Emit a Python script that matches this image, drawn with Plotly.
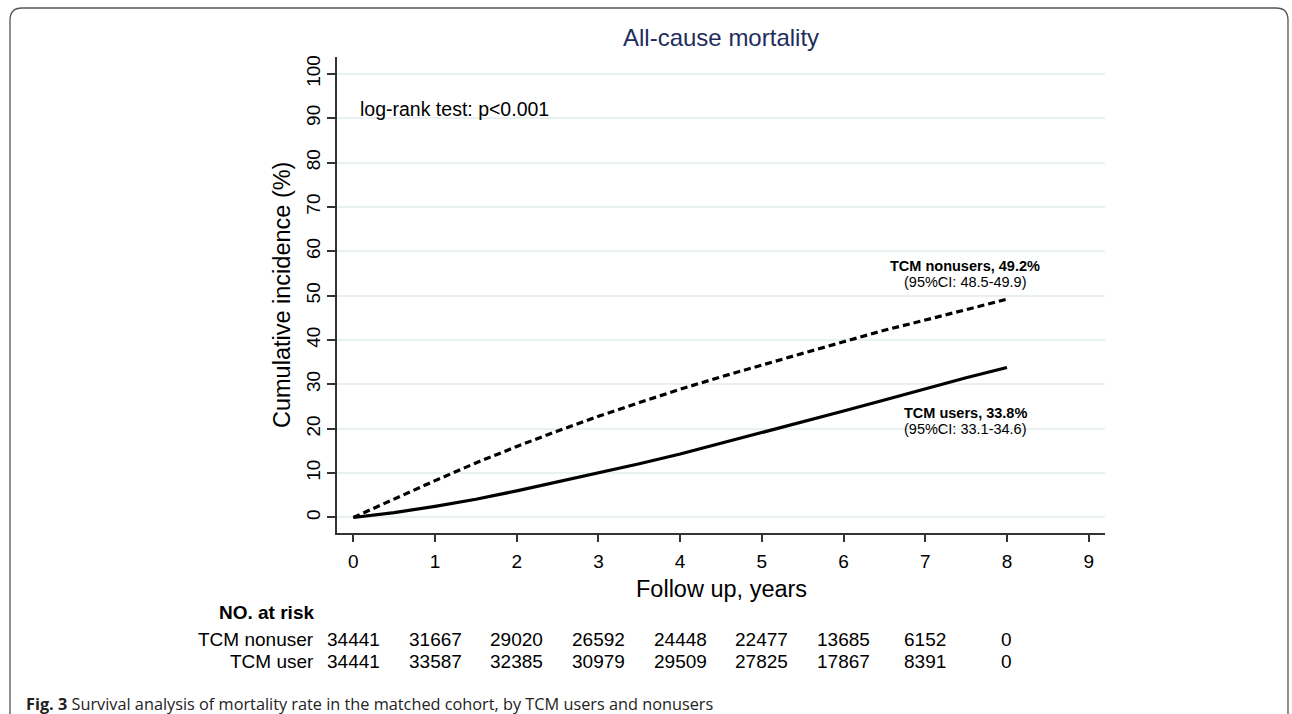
import plotly.graph_objects as go

# ---------------- data ----------------
years = [0, 0.5, 1, 1.5, 2, 2.5, 3, 3.5, 4, 4.5, 5, 5.5, 6, 6.5, 7, 7.5, 8]
nonusers_ci = [0, 4.2, 8.3, 12.3, 16.0, 19.5, 22.8, 25.9, 28.9, 31.7, 34.4, 37.0, 39.6, 42.2, 44.5, 46.8, 49.2]
users_ci = [0, 1.1, 2.5, 4.1, 6.0, 8.0, 10.0, 12.1, 14.3, 16.7, 19.1, 21.5, 24.0, 26.5, 29.0, 31.5, 33.8]

risk_times = [0, 1, 2, 3, 4, 5, 6, 7, 8]
risk_nonuser = [34441, 31667, 29020, 26592, 24448, 22477, 13685, 6152, 0]
risk_user = [34441, 33587, 32385, 30979, 29509, 27825, 17867, 8391, 0]

x_ticks = [0, 1, 2, 3, 4, 5, 6, 7, 8, 9]
y_ticks = [0, 10, 20, 30, 40, 50, 60, 70, 80, 90, 100]

title_text = "All-cause mortality"
x_title = "Follow up, years"
y_title = "Cumulative incidence (%)"
logrank_text = "log-rank test: p<0.001"
nonuser_label = ["<b>TCM nonusers, 49.2%</b>", "(95%CI: 48.5-49.9)"]
user_label = ["<b>TCM users, 33.8%</b>", "(95%CI: 33.1-34.6)"]
caption_bold = "Fig. 3"
caption_text = " Survival analysis of mortality rate in the matched cohort, by TCM users and nonusers"

# ---------------- layout geometry (pixels) ----------------
W, H = 1292, 714
L, R, T, B = 337, 1105, 57, 533  # plot area in pixels


def px2x(px):
    return (px - L) / (R - L)


def py2y(py):
    return (B - py) / (B - T)


FONT = "Liberation Sans, Arial, Helvetica, sans-serif"

fig = go.Figure()
fig.add_trace(go.Scatter(x=years, y=nonusers_ci, mode="lines",
                         line=dict(color="black", width=3.2, dash="7px,4px"),
                         name="TCM nonusers", hoverinfo="x+y"))
fig.add_trace(go.Scatter(x=years, y=users_ci, mode="lines",
                         line=dict(color="black", width=3.2),
                         name="TCM users", hoverinfo="x+y"))

ann = []
# title
ann.append(dict(text=title_text, x=px2x(721), y=py2y(38), xref="paper", yref="paper",
                showarrow=False, font=dict(size=24, color="#1f2d5c", family=FONT),
                xanchor="center", yanchor="middle"))
# axis titles
ann.append(dict(text=x_title, x=px2x(721), y=py2y(589), xref="paper", yref="paper",
                showarrow=False, font=dict(size=23.5, color="black", family=FONT),
                xanchor="center", yanchor="middle"))
ann.append(dict(text=y_title, x=px2x(282), y=0.5, xref="paper", yref="paper",
                showarrow=False, textangle=-90, font=dict(size=23.5, color="black", family=FONT),
                xanchor="center", yanchor="middle"))
# log-rank
ann.append(dict(text=logrank_text, x=px2x(358), y=py2y(109), xref="paper", yref="paper",
                showarrow=False, font=dict(size=19.5, color="black", family=FONT),
                xanchor="left", yanchor="middle"))
# curve labels
for txt, py in [(nonuser_label[0], 266), (nonuser_label[1], 282),
                (user_label[0], 413), (user_label[1], 429)]:
    ann.append(dict(text=txt, x=px2x(965), y=py2y(py), xref="paper", yref="paper",
                    showarrow=False, font=dict(size=14.5, color="black", family=FONT),
                    xanchor="center", yanchor="middle"))
# risk table
ann.append(dict(text="<b>NO. at risk</b>", x=px2x(316), y=py2y(612), xref="paper", yref="paper",
                showarrow=False, font=dict(size=19, color="black", family=FONT),
                xanchor="right", yanchor="middle"))
for lab, vals, py in [("TCM nonuser", risk_nonuser, 639), ("TCM user", risk_user, 661)]:
    ann.append(dict(text=lab, x=px2x(316), y=py2y(py), xref="paper", yref="paper",
                    showarrow=False, font=dict(size=19, color="black", family=FONT),
                    xanchor="right", yanchor="middle"))
    for t, v in zip(risk_times, vals):
        ann.append(dict(text=str(v), x=t, y=py2y(py), xref="x", yref="paper",
                        showarrow=False, font=dict(size=19, color="black", family=FONT),
                        xanchor="center", yanchor="middle"))
# caption
ann.append(dict(text="<b>" + caption_bold + "</b>" + caption_text, x=px2x(24), y=py2y(704),
                xref="paper", yref="paper", showarrow=False,
                font=dict(size=16.3, color="#222222", family="Open Sans, Noto Sans, sans-serif"),
                xanchor="left", yanchor="middle"))

# rounded frame (open at bottom)
fl, fr, ft, fb, rad = 10, 1288, 8, 720, 12
pts = (f"M {px2x(fl)} {py2y(fb)} L {px2x(fl)} {py2y(ft + rad)} "
       f"Q {px2x(fl)} {py2y(ft)} {px2x(fl + rad)} {py2y(ft)} "
       f"L {px2x(fr - rad)} {py2y(ft)} "
       f"Q {px2x(fr)} {py2y(ft)} {px2x(fr)} {py2y(ft + rad)} "
       f"L {px2x(fr)} {py2y(fb)}")
shapes = [dict(type="path", path=pts, xref="paper", yref="paper",
               line=dict(color="#555555", width=1.3), layer="above")]

fig.update_layout(
    width=W, height=H,
    margin=dict(l=L, r=W - R, t=T, b=H - B),
    paper_bgcolor="white", plot_bgcolor="white",
    showlegend=False,
    annotations=ann, shapes=shapes,
    font=dict(family=FONT, color="black"),
    xaxis=dict(range=[-0.2, 9.2], tickvals=x_ticks, ticktext=[str(v) for v in x_ticks],
               showgrid=False, zeroline=False, showline=True, linecolor="#333333", linewidth=1.5,
               ticks="outside", ticklen=7, tickwidth=1.5, tickcolor="#333333",
               tickfont=dict(size=19, color="black", family=FONT), ticklabelstandoff=3),
    yaxis=dict(range=[-3.5, 103.8], tickvals=y_ticks, ticktext=[str(v) for v in y_ticks],
               showgrid=True, gridcolor="#e8f0f2", gridwidth=2, zeroline=False,
               showline=True, linecolor="#333333", linewidth=1.5,
               ticks="outside", ticklen=8, tickwidth=1.5, tickcolor="#333333",
               tickangle=-90, tickfont=dict(size=19, color="black", family=FONT)),
)

fig.write_html("out.html", config={"displayModeBar": False},
               post_script="document.body.style.margin='0';")
